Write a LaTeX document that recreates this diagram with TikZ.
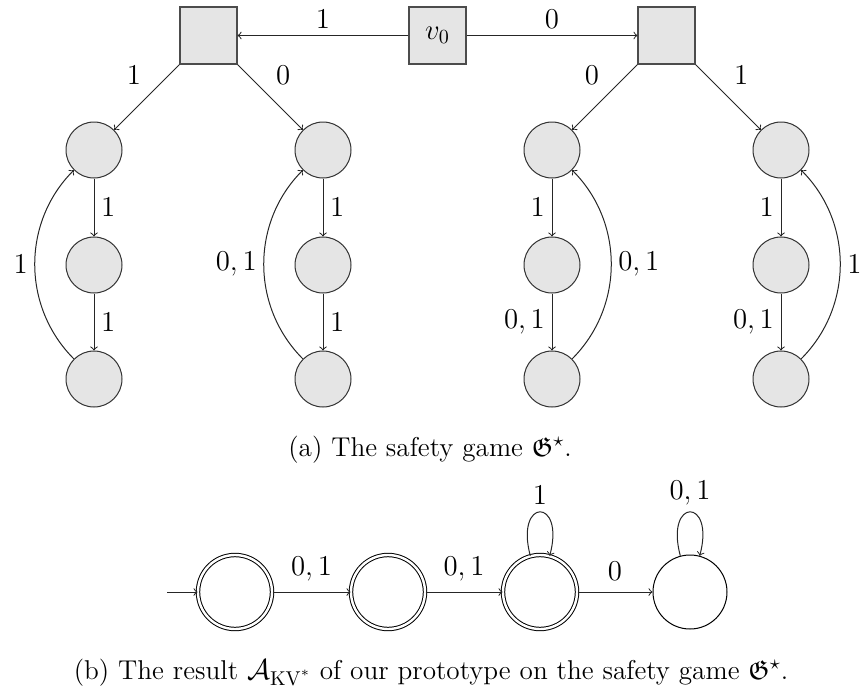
\documentclass[tikz,border=0pt]{standalone}
\usepackage{amssymb}
\begin{document}
\begin{tikzpicture}[x=0.5pt,y=-0.5pt,
  every node/.style={font=\fontsize{14.5}{16}\selectfont},
  captext/.style={font=\fontsize{13.6}{15}\selectfont},
  game/.style={circle,draw=black!80,fill=black!10,minimum size=28pt,inner sep=0pt,line width=0.5pt},
  player/.style={rectangle,draw=black!70,fill=black!10,minimum size=28.5pt,inner sep=0pt,line width=0.55pt},
  edge/.style={->,draw=black!85,line width=0.5pt},
  state/.style={circle,draw,minimum size=37pt,inner sep=0pt,line width=0.5pt},
  acc/.style={state,double,double distance=1.2pt}]
\useasboundingbox (0,0) rectangle (862,691);
% players
\node[player] (L) at (208.5,35.5) {};
\node[player] (v0) at (437.5,35.5) {$v_0$};
\node[player] (R) at (666.5,35.5) {};
% columns
\node[game] (a1) at (94,150) {};
\node[game] (a2) at (94,265) {};
\node[game] (a3) at (94,379) {};
\node[game] (b1) at (323,150) {};
\node[game] (b2) at (323,265) {};
\node[game] (b3) at (323,379) {};
\node[game] (c1) at (552,150) {};
\node[game] (c2) at (552,265) {};
\node[game] (c3) at (552,379) {};
\node[game] (d1) at (781,150) {};
\node[game] (d2) at (781,265) {};
\node[game] (d3) at (781,379) {};
% top edges
\draw[edge] (v0) -- node[above] {$1$} (L);
\draw[edge] (v0) -- node[above] {$0$} (R);
\draw[edge] (L) -- node[pos=0.45,above left=1pt] {$1$} (a1);
\draw[edge] (L) -- node[pos=0.45,above right=1pt] {$0$} (b1);
\draw[edge] (R) -- node[pos=0.45,above left=1pt] {$0$} (c1);
\draw[edge] (R) -- node[pos=0.45,above right=1pt] {$1$} (d1);
% column a
\draw[edge] (a1) -- node[right] {$1$} (a2);
\draw[edge] (a2) -- node[right] {$1$} (a3);
\draw[edge] (a3) to[bend left=45] node[left] {$1$} (a1);
% column b
\draw[edge] (b1) -- node[right] {$1$} (b2);
\draw[edge] (b2) -- node[right] {$1$} (b3);
\draw[edge] (b3) to[bend left=45] node[left] {$0,1$} (b1);
% column c
\draw[edge] (c1) -- node[left] {$1$} (c2);
\draw[edge] (c2) -- node[left] {$0,1$} (c3);
\draw[edge] (c3) to[bend right=45] node[right] {$0,1$} (c1);
% column d
\draw[edge] (d1) -- node[left] {$1$} (d2);
\draw[edge] (d2) -- node[left] {$0,1$} (d3);
\draw[edge] (d3) to[bend right=45] node[right] {$1$} (d1);
% caption a
\node[captext] (capa) at (430,450) {(a) The safety game $\mathfrak{G}^\star$.};
% automaton
\node[acc] (q0) at (235,592) {};
\node[acc] (q1) at (388,592) {};
\node[acc] (q2) at (540,592) {};
\node[state] (q3) at (690,592) {};
\coordinate (init) at (167,592);
\draw[edge] (init) -- (q0);
\draw[edge] (q0) -- node[above=2pt] {$0,1$} (q1);
\draw[edge] (q1) -- node[above=2pt] {$0,1$} (q2);
\draw[edge] (q2) -- node[above=2pt] {$0$} (q3);
\draw[edge] (q2) to[loop above] node[above] {$1$} (q2);
\draw[edge] (q3) to[loop above] node[above] {$0,1$} (q3);
% caption b
\node[captext] (capb) at (431,673) {(b) The result $\mathcal{A}_{\mathrm{KV}^*}$ of our prototype on the safety game $\mathfrak{G}^\star$.};
\end{tikzpicture}
\end{document}
